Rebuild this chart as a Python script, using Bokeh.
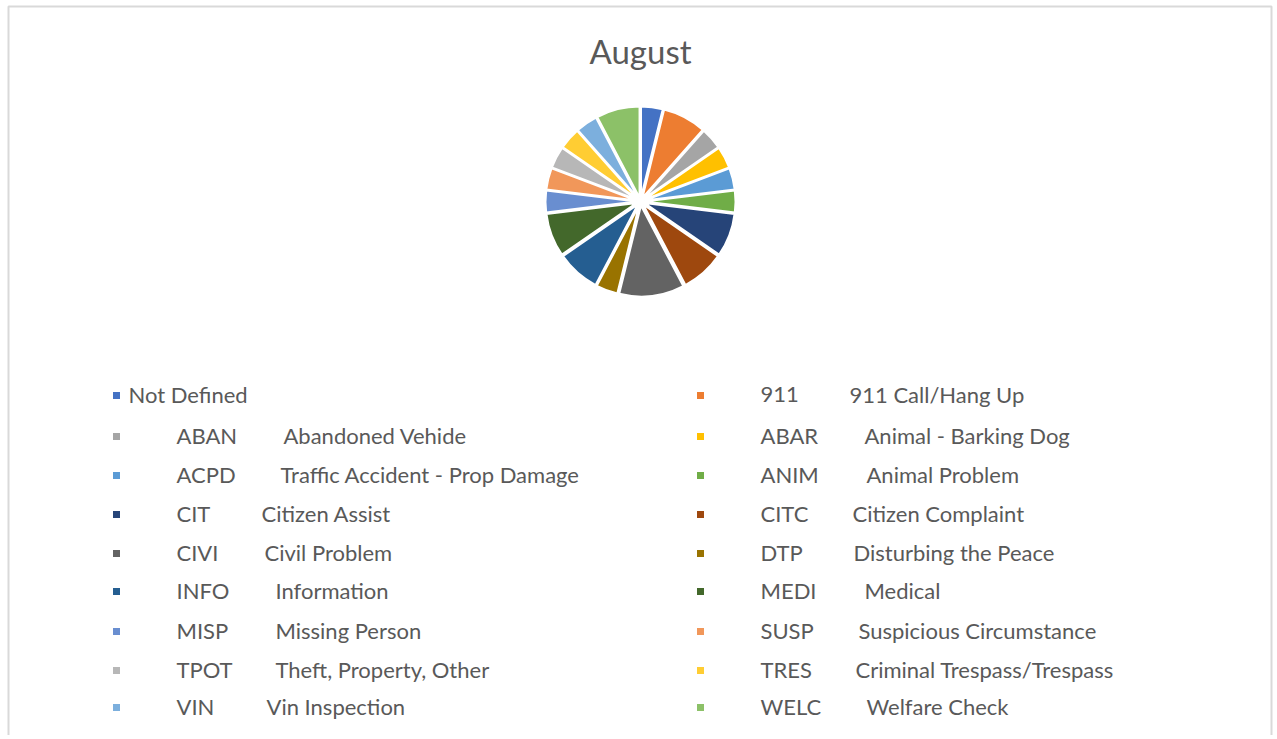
import math
from bokeh.plotting import figure
from bokeh.models import Range1d, ColumnDataSource
from bokeh.core.properties import value
from bokeh.embed import file_html
from bokeh.resources import INLINE

# ---- data ----
codes = ["", "911", "ABAN", "ABAR", "ACPD", "ANIM", "CIT", "CITC", "CIVI",
         "DTP", "INFO", "MEDI", "MISP", "SUSP", "TPOT", "TRES", "VIN", "WELC"]
descriptions = ["Not  Defined", "911 Call/Hang Up", "Abandoned Vehide", "Animal - Barking Dog",
                "Traffic Accident - Prop Damage", "Animal Problem", "Citizen Assist",
                "Citizen Complaint", "Civil Problem", "Disturbing the Peace", "Information",
                "Medical", "Missing Person", "Suspicious Circumstance", "Theft, Property, Other",
                "Criminal Trespass/Trespass", "Vin Inspection", "Welfare Check"]
counts = [1, 2, 1, 1, 1, 1, 2, 2, 3, 1, 2, 2, 1, 1, 1, 1, 1, 2]
colors = ["#4472C4", "#ED7D31", "#A5A5A5", "#FFC000", "#5B9BD5", "#70AD47",
          "#264478", "#9E480E", "#636363", "#997300", "#255E91", "#43682B",
          "#698ED0", "#F1975A", "#B7B7B7", "#FFCD33", "#7CAFDD", "#8CC168"]
title = "August"

# ---- layout (screen px) ----
W, H = 1274, 735
OX, OY = 0, 0
def sx(x): return x - OX
def sy(y): return H - (y - OY)

CX, CY, R, EXPLODE = 640, 201, 91, 4
ROW_Y = [394, 435, 474, 513, 552, 590, 630, 669, 706]
MARK_X = [116, 700]
CODE_X = [176, 760]
DESC_X = [128, 849, 283, 864, 280, 866, 261, 852, 264, 853, 275, 864, 275, 858, 275, 855, 266, 866]
FONT = value("Lato")
TXT = "#595959"

p = figure(width=W, height=H, output_backend="svg", toolbar_location=None,
           x_range=Range1d(0, W), y_range=Range1d(0, H), min_border=0)
p.axis.visible = False
p.grid.visible = False
p.outline_line_color = None
p.background_fill_color = "white"

# border
p.line([sx(8), sx(8), sx(1271), sx(1271)], [sy(760), sy(6), sy(6), sy(760)],
       line_color="#D9D9D9", line_width=2)

# pie
total = sum(counts)
starts, ends, xs, ys = [], [], [], []
cum = 0.0
for c in counts:
    a0 = cum / total * 2 * math.pi
    cum += c
    a1 = cum / total * 2 * math.pi
    mid = (a0 + a1) / 2
    starts.append(math.pi / 2 - a0)
    ends.append(math.pi / 2 - a1)
    xs.append(sx(CX) + EXPLODE * math.sin(mid))
    ys.append(sy(CY) + EXPLODE * math.cos(mid))
src = ColumnDataSource(dict(x=xs, y=ys, s=starts, e=ends, c=colors))
p.wedge(x="x", y="y", radius=R, start_angle="s", end_angle="e", direction="clock",
        fill_color="c", line_color="white", line_width=2, source=src)

# title
p.text(x=[sx(CX)], y=[sy(50)], text=[title], text_align="center", text_baseline="middle",
       text_font=FONT, text_font_size="33px", text_color=TXT)

# legend
mx, my, cx_, dx_, cy_ = [], [], [], [], []
for i in range(len(codes)):
    col, row = i % 2, i // 2
    mx.append(sx(MARK_X[col]))
    my.append(sy(ROW_Y[row] + 1))
    cx_.append(sx(CODE_X[col]))
    dx_.append(sx(DESC_X[i]))
    cy_.append(sy(ROW_Y[row]))
p.rect(x=mx, y=my, width=7, height=7, fill_color=colors, line_color=None)
p.text(x=cx_, y=cy_, text=codes, text_baseline="middle", text_font=FONT,
       text_font_size="22px", text_color=TXT)
p.text(x=dx_, y=cy_, text=descriptions, text_baseline="middle", text_font=FONT,
       text_font_size="22px", text_color=TXT)

open("out.html", "w").write(file_html(p, INLINE))
